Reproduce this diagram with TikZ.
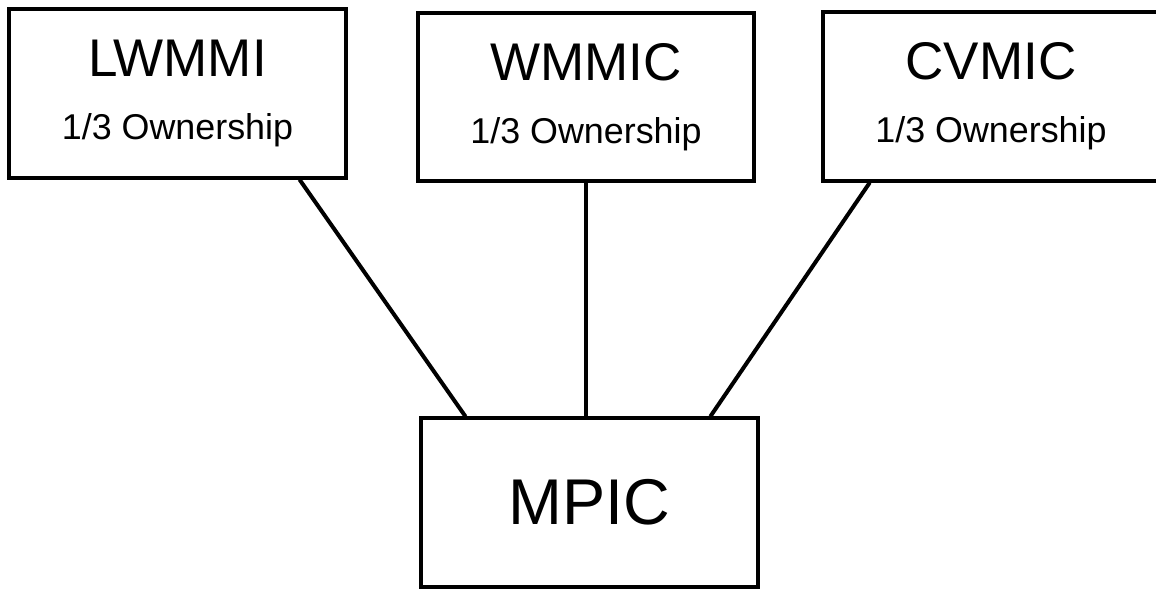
\documentclass[tikz,border=0pt]{standalone}
\usepackage{fontspec}
\setmainfont{Liberation Sans}

\begin{document}
\begin{tikzpicture}[x=0.025cm,y=-0.025cm,line width=2.85pt,
	org box/.style = {rectangle,draw,line width=2.85pt,inner sep=0pt,
		minimum width=8.4cm,minimum height=4.2cm,align=center,
		font=\fontsize{25.5}{45}\selectfont}]
	\useasboundingbox (0,0) rectangle (1156,588);
	
	\node[org box] (lw) at (177.5,93.5) {{\fontsize{37.7}{45}\selectfont LWMMI}\\1/3 Ownership};
	\node[org box] (wm) at (586,97) {{\fontsize{37.7}{45}\selectfont WMMIC}\\1/3 Ownership};
	\node[org box] (cv) at (991,96.5) {{\fontsize{37.7}{45}\selectfont CVMIC}\\1/3 Ownership};
	\node[org box,font=\fontsize{46}{46}\selectfont] (mp) at (589.5,502.5) {MPIC};
	
	\draw ([xshift=-1.2cm]lw.south east) -- ([xshift=1.15cm]mp.north west);
	\draw (wm.south) -- (wm.south |- mp.north);
	\draw ([xshift=1.22cm]cv.south west) -- ([xshift=-1.23cm]mp.north east);
	
\end{tikzpicture}
\end{document}
